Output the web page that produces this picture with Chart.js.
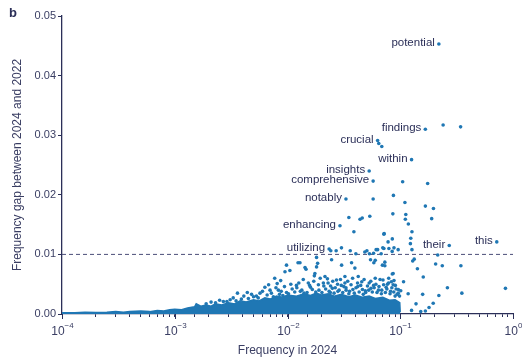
<!DOCTYPE html>
<html>
<head>
<meta charset="utf-8">
<script src="https://cdn.jsdelivr.net/npm/chart.js@4"></script>
<style>
  html, body { margin: 0; padding: 0; background: #ffffff; }
  #wrap { width: 522px; height: 357px; position: relative; }
</style>
</head>
<body>
<div id="wrap"><canvas id="gapChart" width="522" height="357"></canvas></div>
<script>
// Words called out on the chart
const labelWords = ['potential', 'findings', 'crucial', 'within', 'insights', 'comprehensive',
    'notably', 'enhancing', 'utilizing', 'their', 'this'];
const labelFreq = [0.22, 0.167, 0.063, 0.126, 0.053, 0.0575, 0.033, 0.0292, 0.0234, 0.272, 0.718];
const labelGap = [0.0453, 0.0310, 0.0291, 0.0259, 0.0240, 0.0223, 0.0193, 0.0148, 0.0109, 0.0115, 0.0121];

// Other scattered words (frequency in 2024, gap 2024-2022)
const otherFreq = [
    0.24, 0.343, 0.0645, 0.0686, 0.105, 0.175, 0.0575, 0.087, 0.110, 0.167, 0.197,
    0.035, 0.044, 0.046, 0.0537, 0.086, 0.112, 0.111, 0.19, 0.118, 0.0388, 0.127, 0.072, 0.078, 0.085,
    0.124, 0.123, 0.127, 0.0242, 0.027, 0.0301, 0.036, 0.0404, 0.0485, 0.0506, 0.0611, 0.0677, 0.0716,
    0.0793, 0.0848, 0.0958, 0.0716, 0.070, 0.088, 0.063, 0.058, 0.215, 0.206, 0.236, 0.345,
    0.133, 0.129, 0.142, 0.160, 0.262, 0.352, 0.857, 0.220, 0.196, 0.180, 0.167, 0.152, 0.138, 0.158,
    0.126, 0.1175, 0.101, 0.107, 0.0545, 0.06, 0.073, 0.0695, 0.085, 0.079, 0.088,
    0.0098, 0.0105, 0.0124, 0.0143, 0.0185, 0.0181, 0.0246, 0.0302, 0.037, 0.0396, 0.0533, 0.0583,
    0.073, 0.0865, 0.0077, 0.0087, 0.0126, 0.0153, 0.0173, 0.0215, 0.0229, 0.0272, 0.0323, 0.0323,
    0.0424, 0.0456, 0.053, 0.06, 0.0703, 0.0834, 0.0865, 0.0063, 0.0044, 0.0036, 0.0027, 0.0023,
    0.0019, 0.0057, 0.0070, 0.0083, 0.0050, 0.0039, 0.0031, 0.0095, 0.0129, 0.0146, 0.0175, 0.0181,
    0.011, 0.013, 0.016, 0.019, 0.021, 0.025, 0.028, 0.033, 0.038, 0.042, 0.049, 0.055, 0.064, 0.075,
    0.082, 0.092, 0.096, 0.014, 0.024, 0.035, 0.047, 0.068, 0.09, 0.0098, 0.0085, 0.012, 0.03, 0.058, 0.077,
    0.0021, 0.0025, 0.0029, 0.0033, 0.0035, 0.0041, 0.0045, 0.0048, 0.0053, 0.0055, 0.006, 0.0066,
    0.0072, 0.0075, 0.0079, 0.0088, 0.0091, 0.0094, 0.0068, 0.0081,
    0.0102, 0.0107, 0.0116, 0.0121, 0.0134, 0.0138, 0.0149, 0.0157, 0.0166, 0.0171, 0.0178, 0.0188,
    0.0195, 0.0202, 0.0208, 0.0218, 0.0226, 0.0234, 0.0241, 0.0252, 0.0259, 0.0265, 0.0278, 0.0287,
    0.0295, 0.0309, 0.0316, 0.0331, 0.0342, 0.0355, 0.0366, 0.0378, 0.0391, 0.0405, 0.0418, 0.0432,
    0.0446, 0.0462, 0.0478, 0.0494, 0.0512, 0.0525, 0.0548, 0.0565, 0.0587, 0.0608, 0.0622, 0.0648,
    0.0662, 0.0685, 0.0712, 0.0738, 0.0761, 0.0786, 0.0812, 0.0842, 0.0876, 0.0905, 0.0938, 0.0962, 0.0985
];
const otherGap = [
    0.0317, 0.0314, 0.0286, 0.0281, 0.0222, 0.0219, 0.0193, 0.0199, 0.0187, 0.0181, 0.0177,
    0.0162, 0.0159, 0.0161, 0.0164, 0.0168, 0.0167, 0.0159, 0.0160, 0.0151, 0.0138, 0.0138, 0.0135, 0.0121, 0.0126,
    0.0127, 0.0118, 0.0108, 0.0106, 0.0106, 0.0111, 0.0106, 0.0101, 0.0104, 0.0106, 0.0108, 0.0101, 0.0110,
    0.0110, 0.0105, 0.0108, 0.0134, 0.0111, 0.0111, 0.0108, 0.0102, 0.0099, 0.0084, 0.0081, 0.0081,
    0.0092, 0.0089, 0.0076, 0.0062, 0.0044, 0.0035, 0.0043, 0.0031, 0.0018, 0.0011, 0.0005, 0.0004, 0.0017, 0.0033,
    0.0006, 0.0034, 0.0039, 0.0054, 0.0091, 0.0090, 0.0087, 0.0082, 0.0067, 0.0060, 0.0056,
    0.0082, 0.0073, 0.0086, 0.0078, 0.0085, 0.0079, 0.0091, 0.0082, 0.0086, 0.0077, 0.0101, 0.0086,
    0.0081, 0.0068, 0.0060, 0.0056, 0.0052, 0.0052, 0.0064, 0.0063, 0.0052, 0.0057, 0.0063, 0.0052,
    0.0063, 0.0054, 0.0052, 0.0060, 0.0057, 0.0054, 0.0049, 0.0045, 0.0036, 0.0035, 0.0021, 0.0019,
    0.0017, 0.0035, 0.0040, 0.0040, 0.0029, 0.0025, 0.0024, 0.0071, 0.0086, 0.0075, 0.0068, 0.0095,
    0.0042, 0.0038, 0.0045, 0.0040, 0.0047, 0.0043, 0.0038, 0.0044, 0.0041, 0.0046, 0.0039, 0.0043, 0.0040, 0.0045,
    0.0038, 0.0042, 0.0035, 0.0035, 0.0036, 0.0034, 0.0033, 0.0034, 0.0030, 0.0036, 0.0033, 0.0048, 0.0048, 0.0048, 0.0050,
    0.0020, 0.0023, 0.0021, 0.0027, 0.0022, 0.0030, 0.0026, 0.0033, 0.0030, 0.0027, 0.0038, 0.0032,
    0.0035, 0.0029, 0.0044, 0.0038, 0.0031, 0.0046, 0.0049, 0.0051,
    0.0034, 0.0050, 0.0037, 0.0044, 0.0040, 0.0058, 0.0036, 0.0048, 0.0041, 0.0055, 0.0037, 0.0049,
    0.0060, 0.0036, 0.0052, 0.0042, 0.0059, 0.0038, 0.0047, 0.0055, 0.0035, 0.0044, 0.0050, 0.0040,
    0.0058, 0.0036, 0.0046, 0.0040, 0.0055, 0.0038, 0.0049, 0.0060, 0.0035, 0.0044, 0.0052, 0.0037,
    0.0048, 0.0041, 0.0058, 0.0036, 0.0047, 0.0040, 0.0055, 0.0037, 0.0044, 0.0050, 0.0036, 0.0046,
    0.0058, 0.0040, 0.0049, 0.0036, 0.0042, 0.0052, 0.0034, 0.0044, 0.0037, 0.0048, 0.0033, 0.0041, 0.0030
];

// Upper edge of the dense mass of low-gap words
const bandFreq = [1e-4, 1.3e-4, 1.6e-4, 2e-4, 2.5e-4, 3e-4, 3.5e-4, 4e-4, 5e-4, 6e-4, 7e-4, 8e-4, 9e-4,
    1e-3, 1.15e-3, 1.3e-3, 1.5e-3, 1.55e-3, 1.7e-3, 1.9e-3, 2.1e-3, 2.3e-3, 2.6e-3, 3e-3, 3.4e-3, 3.8e-3,
    4.3e-3, 5e-3, 5.6e-3, 6.3e-3, 7e-3, 8e-3, 9e-3, 1e-2, 1.2e-2, 1.4e-2, 1.6e-2, 1.8e-2, 2e-2, 2.3e-2,
    2.6e-2, 3e-2, 3.5e-2, 4e-2, 4.6e-2, 5.3e-2, 6e-2, 7e-2, 8e-2, 9e-2, 0.099, 0.1];
const bandGap = [0.0002, 0.0002, 0.0003, 0.00025, 0.0003, 0.0004, 0.0003, 0.0004, 0.0005, 0.0004, 0.0006, 0.0005, 0.0007,
    0.0008, 0.0007, 0.0010, 0.0012, 0.0017, 0.0013, 0.0015, 0.0013, 0.0017, 0.0015, 0.0019, 0.0017, 0.0022,
    0.0020, 0.0024, 0.0022, 0.0027, 0.0025, 0.0030, 0.0028, 0.0032, 0.0030, 0.0034, 0.0031, 0.0035, 0.0032, 0.0034,
    0.0030, 0.0033, 0.0029, 0.0032, 0.0028, 0.0030, 0.0026, 0.0028, 0.0023, 0.0024, 0.0019, 0.0003];

const threshold = 0.01;
const yTicks = [0, 0.01, 0.02, 0.03, 0.04, 0.05];
const xDecades = [-4, -3, -2, -1, 0];

const dotColor = '#1f77b4';
const inkColor = '#2b2f58';
const textColor = '#3a3e63';

const labelPlugin = {
    id: 'gapLabels',
    afterDraw(chart) {
        const ctx = chart.ctx;
        const xs = chart.scales.x;
        const ys = chart.scales.y;
        const area = chart.chartArea;
        ctx.save();

        // word annotations
        ctx.fillStyle = inkColor;
        ctx.font = '11.5px "Liberation Sans", Arial, sans-serif';
        ctx.textAlign = 'right';
        ctx.textBaseline = 'middle';
        labelWords.forEach((w, i) => {
            const px = xs.getPixelForValue(labelFreq[i]);
            const py = ys.getPixelForValue(labelGap[i]);
            ctx.fillText(w, px - 4, py - 1);
        });

        // major ticks + 10^n labels
        ctx.strokeStyle = inkColor;
        ctx.lineWidth = 1;
        xDecades.forEach(e => {
            const px = Math.round(xs.getPixelForValue(Math.pow(10, e))) + 0.5;
            ctx.beginPath();
            ctx.moveTo(px, area.bottom);
            ctx.lineTo(px, area.bottom + 5);
            ctx.stroke();

            ctx.fillStyle = textColor;
            ctx.textBaseline = 'alphabetic';
            ctx.font = '12px "Liberation Sans", Arial, sans-serif';
            const base = '10';
            const bw = ctx.measureText(base).width;
            ctx.font = '8px "Liberation Sans", Arial, sans-serif';
            const sup = e === 0 ? '0' : '\u2212' + Math.abs(e);
            const sw = ctx.measureText(sup).width;
            const left = px - (bw + sw) / 2;
            ctx.textAlign = 'left';
            ctx.font = '12px "Liberation Sans", Arial, sans-serif';
            ctx.fillText(base, left, area.bottom + 21);
            ctx.font = '8px "Liberation Sans", Arial, sans-serif';
            ctx.fillText(sup, left + bw, area.bottom + 14);
        });

        // axis titles
        ctx.fillStyle = textColor;
        ctx.font = '12px "Liberation Sans", Arial, sans-serif';
        ctx.textAlign = 'center';
        ctx.textBaseline = 'middle';
        ctx.fillText('Frequency in 2024', (area.left + area.right) / 2, 351);
        ctx.translate(18, (area.top + area.bottom) / 2);
        ctx.rotate(-Math.PI / 2);
        ctx.fillText('Frequency gap between 2024 and 2022', 0, 0);
        ctx.restore();

        // panel letter
        ctx.save();
        ctx.fillStyle = inkColor;
        ctx.font = 'bold 13px "Liberation Sans", Arial, sans-serif';
        ctx.textAlign = 'left';
        ctx.textBaseline = 'middle';
        ctx.fillText('b', 9, 13);
        ctx.restore();
    }
};

const pts = (fx, gy) => fx.map((f, i) => ({ x: f, y: gy[i] }));

new Chart(document.getElementById('gapChart'), {
    type: 'scatter',
    data: {
        datasets: [
            {
                label: 'labelled',
                data: pts(labelFreq, labelGap),
                backgroundColor: dotColor,
                pointRadius: 1.8,
                borderWidth: 0,
                order: 0
            },
            {
                label: 'words',
                data: pts(otherFreq, otherGap),
                backgroundColor: dotColor,
                pointRadius: 1.8,
                borderWidth: 0,
                order: 1
            },
            {
                label: 'threshold',
                type: 'line',
                data: [{ x: 1e-4, y: threshold }, { x: 1, y: threshold }],
                borderColor: '#4a4e78',
                borderWidth: 1,
                borderDash: [4, 3],
                pointRadius: 0,
                fill: false,
                order: 2
            },
            {
                label: 'dense',
                type: 'line',
                data: pts(bandFreq, bandGap),
                borderColor: dotColor,
                borderWidth: 1.5,
                backgroundColor: dotColor,
                pointRadius: 0,
                tension: 0,
                fill: 'origin',
                order: 3
            }
        ]
    },
    options: {
        responsive: false,
        animation: false,
        devicePixelRatio: 1,
        layout: { padding: { top: 16, right: 9, left: 0, bottom: 0 } },
        plugins: {
            legend: { display: false },
            tooltip: { enabled: false }
        },
        scales: {
            x: {
                type: 'logarithmic',
                min: 1e-4,
                max: 1,
                border: { display: true, color: inkColor, width: 1.3 },
                grid: { display: true, drawOnChartArea: false, drawTicks: true, tickLength: 3, color: inkColor },
                ticks: { autoSkip: false, maxRotation: 0, callback: () => '' },
                afterFit: s => { s.height = 43; }
            },
            y: {
                min: 0,
                max: 0.05,
                afterBuildTicks: s => { s.ticks = yTicks.map(v => ({ value: v })); },
                border: { display: true, color: inkColor, width: 1.3 },
                grid: { display: true, drawOnChartArea: false, drawTicks: true, tickLength: 4, color: inkColor },
                ticks: {
                    color: textColor,
                    padding: 2,
                    font: { size: 11, family: '"Liberation Sans", Arial, sans-serif' },
                    callback: v => v.toFixed(2)
                },
                afterFit: s => { s.width = 62; }
            }
        }
    },
    plugins: [labelPlugin]
});
</script>
</body>
</html>
